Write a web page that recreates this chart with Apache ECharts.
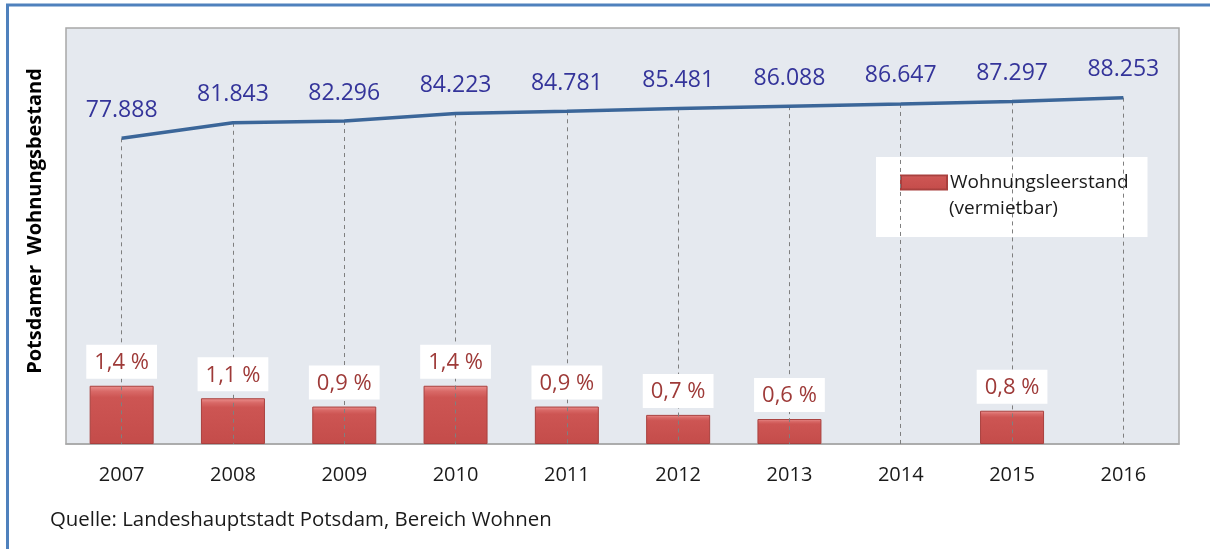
<!DOCTYPE html>
<html>
<head>
<meta charset="utf-8">
<script src="https://cdn.jsdelivr.net/npm/echarts@6/dist/echarts.min.js"></script>
<style>
html,body{margin:0;padding:0;background:#fff;}
#chart{width:1210px;height:549px;}
</style>
</head>
<body>
<div id="chart"></div>
<script>
// ---- data ----
var years = ['2007','2008','2009','2010','2011','2012','2013','2014','2015','2016'];
var bestand = [77888, 81843, 82296, 84223, 84781, 85481, 86088, 86647, 87297, 88253];
var leerstand = [1.4, 1.1, 0.9, 1.4, 0.9, 0.7, 0.6, null, 0.8, null];
var leerstandName = 'Wohnungsleerstand';
var leerstandNameLine2 = '(vermietbar)';
var yAxisTitle = 'Potsdamer  Wohnungsbestand';
var sourceText = 'Quelle: Landeshauptstadt Potsdam, Bereich Wohnen';

var FONT = '"Open Sans", "Noto Sans", sans-serif';

function fmtThousands(v) {
  var s = String(v);
  return s.slice(0, s.length - 3) + '.' + s.slice(s.length - 3);
}

var dropLines = bestand.map(function (v, i) {
  return [{ coord: [i, v] }, { coord: [i, 0] }];
});

var barFill = new echarts.graphic.LinearGradient(0, 0, 0, 1, [
  { offset: 0, color: '#ec9290' },
  { offset: 0.1, color: '#d86866' },
  { offset: 0.2, color: '#cd5553' },
  { offset: 1, color: '#c44c4a' }
]);

var chart = echarts.init(document.getElementById('chart'), null, { renderer: 'canvas' });
chart.setOption({
  animation: false,
  backgroundColor: '#ffffff',
  grid: {
    left: 66, top: 28, width: 1113, height: 416,
    show: true, backgroundColor: '#e5e9ef', borderColor: '#a8a8a8', borderWidth: 1.5
  },
  legend: {
    data: [leerstandName],
    left: 876, top: 157,
    backgroundColor: '#ffffff',
    padding: [16, 19, 45, 24],
    itemWidth: 46, itemHeight: 14, itemGap: 4,
    icon: 'rect',
    textStyle: { fontFamily: FONT, fontSize: 19, color: '#1a1a1a', padding: [0, 0, 0, -2] },
    selectedMode: false
  },
  xAxis: {
    type: 'category',
    data: years,
    boundaryGap: true,
    axisLine: { show: true, lineStyle: { color: '#a8a8a8', width: 1.5 } },
    axisTick: { show: false },
    axisLabel: { fontFamily: FONT, fontSize: 20, color: '#1a1a1a', margin: 21 },
    splitLine: { show: false }
  },
  yAxis: [
    { type: 'value', min: 0, max: 10, show: false, splitLine: { show: false } },
    { type: 'value', min: 0, max: 106000, show: false, splitLine: { show: false } }
  ],
  series: [
    {
      name: leerstandName,
      type: 'bar',
      yAxisIndex: 0,
      data: leerstand,
      barWidth: 64,
      z: 2,
      itemStyle: {
        color: barFill,
        borderColor: '#a9403e',
        borderWidth: 1
      }
    },
    {
      name: 'Wohnungsbestand',
      type: 'line',
      yAxisIndex: 1,
      data: bestand,
      z: 5,
      symbol: 'circle',
      symbolSize: 1,
      showSymbol: true,
      itemStyle: { color: 'rgba(0,0,0,0)' },
      lineStyle: { color: '#3b6699', width: 3.5 },
      label: {
        show: true,
        position: 'top',
        distance: 16,
        formatter: function (p) { return fmtThousands(p.value); },
        fontFamily: FONT,
        fontSize: 23,
        color: '#34349a'
      },
      labelLayout: { hideOverlap: false },
      markLine: {
        silent: true,
        symbol: 'none',
        label: { show: false },
        lineStyle: { color: '#7f7f7f', type: [4, 4], width: 1 },
        data: dropLines
      }
    },
    {
      name: 'labels',
      type: 'bar',
      yAxisIndex: 0,
      data: leerstand,
      barWidth: 64,
      barGap: '-100%',
      z: 10,
      silent: true,
      itemStyle: { color: 'rgba(0,0,0,0)' },
      label: {
        show: true,
        position: 'top',
        distance: 7,
        formatter: function (p) { return String(p.value).replace('.', ',') + ' %'; },
        fontFamily: FONT,
        fontSize: 22,
        color: '#9e3a38',
        backgroundColor: '#ffffff',
        padding: [7, 8, 5, 8]
      }
    }
  ],
  graphic: [
    {
      type: 'rect',
      shape: { x: 7.5, y: 5, width: 1230, height: 600 },
      style: { fill: 'none', stroke: '#4f81bd', lineWidth: 3 },
      z: 100
    },
    {
      type: 'text',
      x: 949, y: 199,
      style: { text: leerstandNameLine2, font: '19px ' + FONT, fill: '#1a1a1a' },
      z: 100
    },
    {
      type: 'text',
      x: 35, y: 221,
      rotation: Math.PI / 2,
      style: {
        text: yAxisTitle, font: 'bold 20px ' + FONT, fill: '#000000',
        align: 'center', verticalAlign: 'middle'
      },
      z: 100
    },
    {
      type: 'text',
      x: 50, y: 520,
      style: {
        text: sourceText, font: '20.4px ' + FONT, fill: '#1a1a1a',
        verticalAlign: 'middle'
      },
      z: 100
    }
  ]
});
</script>
</body>
</html>
